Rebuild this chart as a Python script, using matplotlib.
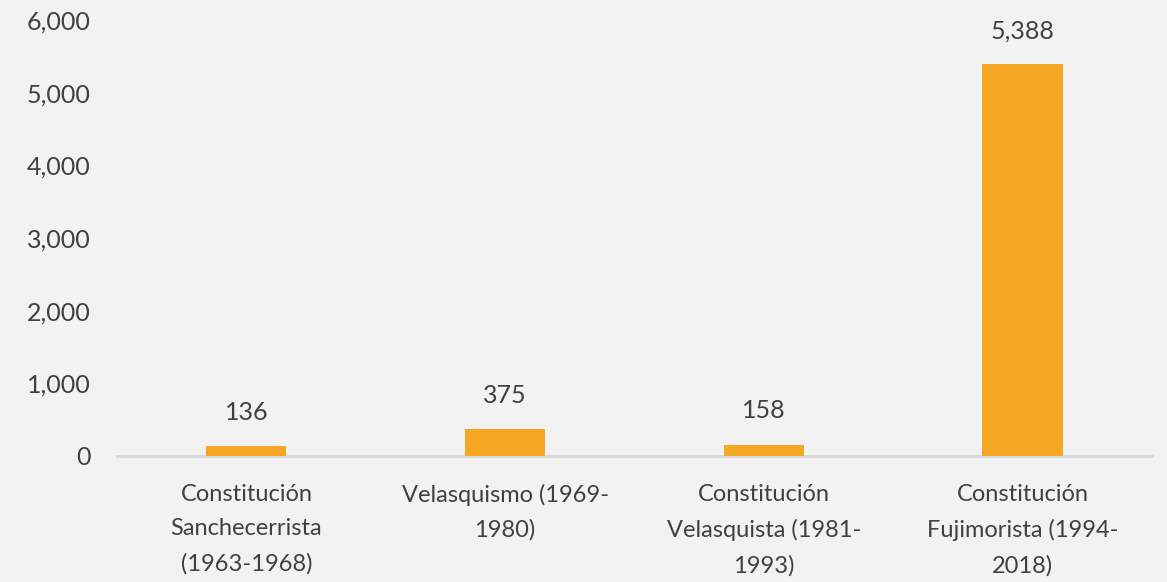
import matplotlib
matplotlib.use('Agg')
import matplotlib.pyplot as plt

plt.rcParams['font.family'] = ['Lato', 'DejaVu Sans']

categories = [
    'Constitución\nSanchecerrista\n(1963-1968)',
    'Velasquismo (1969-\n1980)',
    'Constitución\nVelasquista (1981-\n1993)',
    'Constitución\nFujimorista (1994-\n2018)',
]
values = [136, 375, 158, 5388]
value_labels = ['136', '375', '158', '5,388']
yticks = [0, 1000, 2000, 3000, 4000, 5000, 6000]
ytick_labels = ['0', '1,000', '2,000', '3,000', '4,000', '5,000', '6,000']

bg = '#F2F2F2'
text_color = '#404040'

fig = plt.figure(figsize=(11.67, 5.82), dpi=100)
fig.patch.set_facecolor(bg)
ax = fig.add_axes([0.1003, 0.2165, 0.8867, 0.7491])
ax.set_facecolor(bg)

x = range(len(categories))
bars = ax.bar(x, values, width=0.31, color='#F5A623', zorder=3)

for b, lab in zip(bars, value_labels):
    ax.annotate(lab, (b.get_x() + b.get_width() / 2, b.get_height()),
                xytext=(0, 16), textcoords='offset points',
                ha='center', va='bottom', fontsize=18, color=text_color)

ax.set_xlim(-0.5, 3.5)
ax.set_ylim(0, 6000)
ax.set_xticks(list(x))
ax.set_xticklabels(categories, fontsize=17, color=text_color, linespacing=1.78)
ax.set_yticks(yticks)
ax.set_yticklabels(ytick_labels, fontsize=18, color=text_color)

ax.tick_params(axis='x', length=0, pad=20)
ax.tick_params(axis='y', length=0, pad=19)

for s in ['top', 'right', 'left']:
    ax.spines[s].set_visible(False)
ax.spines['bottom'].set_color('#D9D9D9')
ax.spines['bottom'].set_linewidth(2)

fig.savefig('out.png', dpi=100, facecolor=bg)
